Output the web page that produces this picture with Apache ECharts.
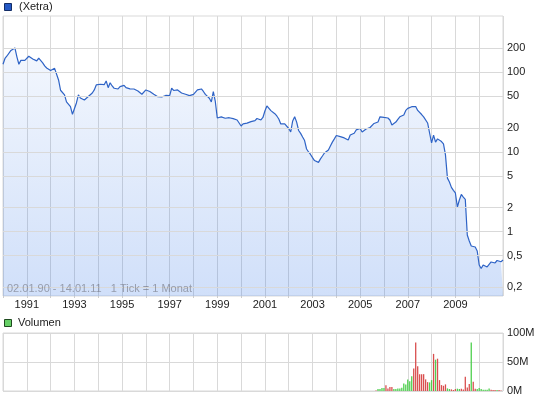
<!DOCTYPE html>
<html><head><meta charset="utf-8">
<script src="https://cdn.jsdelivr.net/npm/echarts@6/dist/echarts.min.js"></script>
<style>html,body{margin:0;padding:0;background:#fff}#c{width:545px;height:401px}</style>
</head><body><div id="c"></div>
<script>
// Monthly closing prices starting January 1990 (one value per month)
const startYear = 1990;
const price = [
126,149,160,158,188,187,202,156,126,141,
147,141,149,159,158,147,141,139,150,146,
131,120,113,107,105,105,112,107,80,59.5,
57.4,52,42.5,41.2,37,29.7,29.7,41.2,52,47.6,
48.3,44.9,42.4,49.7,49,55,60,69.3,70.3,70.7,
69.3,69.9,77.8,64.1,74,67.3,63,66,61.7,66,
67.9,68.5,64.1,62.6,62,61.7,61.7,60,58.3,56.1,
53,54.5,60,58.3,57.4,55.8,53,54.5,49.4,46.9,
49,50.4,51.2,53,51,63,59.1,60,60,57.8,
55,54,53,52,51,51,52.7,55,60,62.6,
61.7,57.4,52.7,50.4,47.2,42.4,57.1,43,26.7,27.2,
27.6,26.7,26.5,26.7,26.9,26.7,26.2,27.6,25.2,23.1,
21.2,22.5,23,23,23.3,24,23.7,24.7,26.3,25.9,
25.2,27.1,32.7,37.8,37.2,33,31.8,30.2,28.3,25.9,
22.5,23.3,22.5,21.8,19.7,17.8,24.5,27.6,23.7,18.6,
17.1,15.4,13.9,10.9,10,9.3,8.5,7.8,7.6,7.4,
8.2,8.9,9.7,9.9,10.6,11.9,13.3,14.6,16.1,16.8,
15.6,15,15,15.2,14.1,16.3,16.3,17.2,18.9,20,
19.7,17.8,18.6,19.4,20.2,20.3,21.2,22.8,21.8,23.8,
27.6,27.6,27.1,27.6,26.7,25.2,21.8,21.2,23.7,25.7,
27.6,26.3,29.1,33.2,35.2,36.2,37,37.8,37.2,33.2,
31.5,29.5,27.6,28.3,23.1,17.3,13,16.3,13.3,14.6,
14.1,13.5,12.6,9.2,4.7,4.2,3.6,3.3,3.06,2.04,
2.5,2.93,2.72,2.54,0.91,0.764,0.662,0.67,0.643,0.573,
0.382,0.345,0.382,0.361,0.361,0.377,0.417,0.441,0.405,0.435,
0.411,0.42,0.441
];
const priceTicks = [0.2,0.5,1,2,5,10,20,50,100,200];
// Volume (millions), monthly, starting at month index volStart
const volStart = 188;
const volume = [
1,3.4,3.4,5,5,9.7,4.5,6.8,6.8,3.4,
3.4,4.5,4.5,5.7,13,11.4,20,17,25.6,38.6,
83.5,42.6,29,29,29,20,15.3,14.8,18.8,64,
54,55.7,18.8,10.2,9,11.4,4.5,3.4,2.8,1.7,
3.4,4,3.4,4,2.8,24.4,6.2,11.9,83.5,16,
4,3.4,5,3.4,2.3,2.3,2.3,4.5,2.3,1.7,
1.7,1.7,1.7,1
];
// u = up month (green), d = down month (red)
const volDir = [
"d","u","u","u","u","d","d","d","d","u",
"u","u","u","u","u","u","u","u","u","d",
"d","d","d","d","d","d","d","u","u","d",
"u","d","d","d","d","d","u","u","d","d",
"d","u","u","d","d","d","d","d","u","d",
"d","u","u","u","u","u","u","u","d","d",
"d","u","d","d"
];
const infoText = "02.01.90 - 14.01.11   1 Tick = 1 Monat";

const FONT = '"Liberation Sans", Arial, sans-serif';
const GRIDC = '#d9d9d9';
const xMax = price.length - 1;
const lineData = price.map((v,i)=>[i,v]);
const volUp = [], volDown = [];
volume.forEach((v,i)=>{ (volDir[i]==='u'?volUp:volDown).push([volStart+i, v*1e6]); });

const chart = echarts.init(document.getElementById('c'), null, {renderer:'canvas'});
chart.setOption({
  animation:false,
  backgroundColor:'#fff',
  grid:[
    {left:3,top:16,width:500,height:280,show:true,borderColor:GRIDC,borderWidth:1},
    {left:3,top:333,width:500,height:58,show:true,borderColor:GRIDC,borderWidth:1}
  ],
  xAxis:[
    {type:'value',gridIndex:0,min:0,max:xMax,interval:12,
     axisLine:{show:false},
     axisTick:{show:true,length:2,lineStyle:{color:'#cccccc'}},
     splitLine:{show:true,lineStyle:{color:GRIDC,width:1}},
     axisLabel:{formatter:v=>{const y=startYear+Math.round(v/12);return (y%2===1&&v<xMax)?String(y):'';},
       color:'#222',fontSize:11,fontFamily:FONT,margin:3,showMaxLabel:false}},
    {type:'value',gridIndex:1,min:0,max:xMax,interval:12,
     axisLine:{show:false},axisTick:{show:false},axisLabel:{show:false},
     splitLine:{show:true,lineStyle:{color:GRIDC,width:1}}}
  ],
  yAxis:[
    {type:'log',gridIndex:0,min:0.156,max:508,position:'right',
     axisLine:{show:false},axisTick:{show:false},axisLabel:{show:false},splitLine:{show:false}},
    {type:'value',gridIndex:1,min:0,max:1e8,interval:5e7,position:'right',
     axisLine:{show:false},axisTick:{show:false},
     splitLine:{show:true,lineStyle:{color:GRIDC,width:1}},
     axisLabel:{formatter:v=>(v/1e6)+'M',color:'#222',fontSize:11,fontFamily:FONT,margin:4}}
  ],
  series:[
    {type:'line',xAxisIndex:0,yAxisIndex:0,data:[],z:1,silent:true,
     markLine:{silent:true,symbol:'none',animation:false,
       lineStyle:{color:GRIDC,width:1,type:'solid'},
       label:{position:'end',formatter:p=>String(p.value).replace('.',','),color:'#222',fontSize:11,fontFamily:FONT,distance:4},
       data:priceTicks.map(t=>({yAxis:t}))}},
    {type:'line',xAxisIndex:0,yAxisIndex:0,data:lineData,z:3,showSymbol:false,symbol:'none',
     lineStyle:{color:'#2e63c6',width:1.2},
     areaStyle:{origin:'start',color:new echarts.graphic.LinearGradient(0,16,0,296,[
       {offset:0,color:'rgba(40,110,230,0.05)'},{offset:1,color:'rgba(40,110,230,0.31)'}],true)}},
    {type:'bar',xAxisIndex:1,yAxisIndex:1,data:volUp,barWidth:1.3,barGap:'-100%',itemStyle:{color:'#4fd04f'}},
    {type:'bar',xAxisIndex:1,yAxisIndex:1,data:volDown,barWidth:1.3,barGap:'-100%',itemStyle:{color:'#d94f4f'}}
  ],
  graphic:[
    {type:'rect',shape:{x:4.5,y:3.5,width:7,height:7},style:{fill:'#2458c4',stroke:'#142d66',lineWidth:1},z:100},
    {type:'text',x:19,y:7,style:{text:'(Xetra)',fill:'#222',font:'11px '+FONT,verticalAlign:'middle'},z:100},
    {type:'rect',shape:{x:4.5,y:319.5,width:7,height:7},style:{fill:'#66d066',stroke:'#1f4a1f',lineWidth:1},z:100},
    {type:'text',x:18,y:323,style:{text:'Volumen',fill:'#222',font:'11px '+FONT,verticalAlign:'middle'},z:100},
    {type:'text',x:7,y:289,style:{text:infoText,fill:'rgba(100,100,110,0.55)',font:'11px '+FONT,verticalAlign:'middle'},z:100}
  ]
});
</script>
</body></html>
